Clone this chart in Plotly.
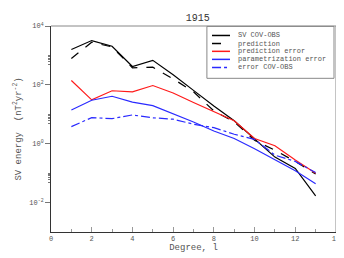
import plotly.graph_objects as go

degrees = [1, 2, 3, 4, 5, 6, 7, 8, 9, 10, 11, 12, 13]
sv_covobs = [1585, 3200, 2050, 420, 680, 220, 65, 19, 6.0, 1.4, 0.35, 0.145, 0.017]
prediction = [790, 2800, 1950, 380, 400, 160, 58, 13, 5.5, 1.3, 0.6, 0.25, 0.093]
prediction_error = [140, 31, 63, 58, 95, 53, 25, 12.6, 6.0, 1.5, 0.85, 0.28, 0.1]
param_error = [14, 30, 41, 26, 19.6, 10.5, 5.5, 2.7, 1.5, 0.67, 0.29, 0.12, 0.044]
error_covobs = [3.8, 7.7, 7.1, 9.5, 7.6, 6.8, 4.6, 3.5, 2.1, 1.4, 0.41, 0.25, 0.105]

series_names = ["SV COV-OBS", "prediction", "prediction error",
                "parametrization error", "error COV-OBS"]
series_values = [sv_covobs, prediction, prediction_error, param_error, error_covobs]
series_colors = ["black", "black", "#ff1a1a", "#2a2aff", "#2a2aff"]
series_dash = ["solid", "dash", "solid", "solid", "dashdot"]

y_tickvals = [1e-2, 1, 1e2, 1e4]
y_ticktext = ["10<sup>-2</sup>", "10<sup>0</sup>", "10<sup>2</sup>", "10<sup>4</sup>"]
y_minor = [k * 10.0 ** m for m in (-2, 0, 2) for k in (5, 6, 7, 8, 9, 10)]

FONT = "'Liberation Mono'"
TXT = "#555555"

fig = go.Figure()
for name, vals, col, dash in zip(series_names, series_values, series_colors, series_dash):
    fig.add_trace(go.Scatter(x=degrees, y=vals, mode="lines", name=name,
                             line=dict(color=col, width=1.2, dash=dash),
                             showlegend=False))

# manual compact legend
row_y = [0.954, 0.915, 0.877, 0.838, 0.799]
for name, col, dash, yy in zip(series_names, series_colors, series_dash, row_y):
    fig.add_shape(type="line", xref="paper", yref="paper", x0=0.565, x1=0.628,
                  y0=yy, y1=yy, line=dict(color=col, width=1.5, dash=dash))
    fig.add_annotation(xref="paper", yref="paper", x=0.649, y=yy, text=name,
                       showarrow=False, xanchor="left", yanchor="middle",
                       font=dict(family=FONT, size=7, color=TXT))
fig.add_shape(type="rect", xref="paper", yref="paper", x0=0.547, x1=0.993,
              y0=0.746, y1=0.998, line=dict(color="#888888", width=1))
# top & right frame
fig.add_shape(type="line", xref="paper", yref="paper", x0=0, x1=1, y0=1, y1=1,
              line=dict(color="#888888", width=1))
fig.add_shape(type="line", xref="paper", yref="paper", x0=1, x1=1, y0=0, y1=1,
              line=dict(color="#888888", width=1))

# page body has an 8px margin: figure is 336x250 placed at (8, 8)
fig.update_layout(
    width=336, height=250,
    margin=dict(l=43, r=8, t=18, b=26, autoexpand=False),
    paper_bgcolor="white", plot_bgcolor="white",
    title=dict(text="1915", x=0.565, xanchor="center", y=0.962, yanchor="middle",
               yref="container", automargin=False,
               font=dict(family=FONT, size=10, color="#333333")),
    font=dict(family=FONT, size=7, color=TXT),
)
fig.update_xaxes(range=[0, 14], tickmode="linear", tick0=0, dtick=2, automargin=False,
                 showgrid=False, zeroline=False, showline=True, linecolor="#333333",
                 linewidth=1, ticks="inside", ticklen=5, tickcolor="#999999",
                 minor=dict(ticks="inside", ticklen=3, dtick=1, tickcolor="#999999"),
                 tickfont=dict(family=FONT, size=7, color=TXT),
                 title=dict(text="Degree, l", standoff=0,
                            font=dict(family=FONT, size=9, color=TXT)))
fig.update_yaxes(type="log", range=[-3, 4], tickmode="array", tickvals=y_tickvals,
                 ticktext=y_ticktext, showgrid=False, zeroline=False, showline=True,
                 linecolor="#333333", linewidth=1, ticks="outside", ticklen=5,
                 tickcolor="#777777", automargin=False,
                 minor=dict(tickmode="array", tickvals=y_minor, ticks="outside",
                            ticklen=2, tickcolor="#777777"),
                 tickfont=dict(family=FONT, size=7, color=TXT),
                 title=dict(text="SV energy  (nT<sup>2</sup>yr<sup>-2</sup>)", standoff=6,
                            font=dict(family=FONT, size=9, color=TXT)))

fig.write_html("out.html")
